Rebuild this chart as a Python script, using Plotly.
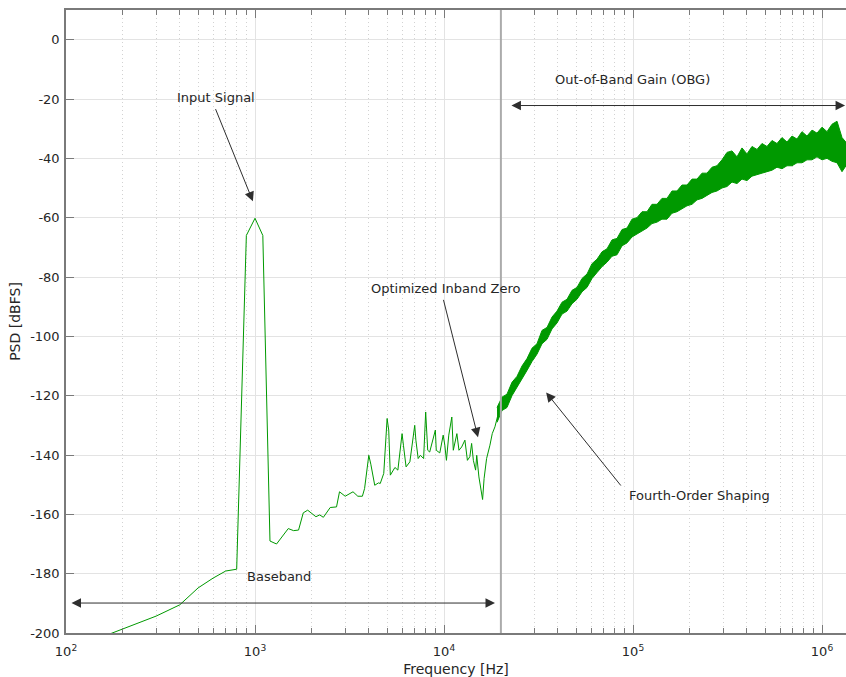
import numpy as np
import plotly.graph_objects as go

# ---------------- data ----------------
# low / mid frequency part of the PSD (single visible line)
F_LINE = [100, 200, 300, 400, 500, 600, 700, 800, 900, 1000, 1100, 1200, 1300,
          1500, 1600, 1700, 1800, 1900, 2100, 2200, 2300, 2500, 2700, 2800,
          3000, 3300, 3500, 3700, 3800, 4000, 4100, 4300, 4500, 4600, 4800,
          5000, 5100, 5200, 5500, 5700, 6000, 6100, 6300, 6600, 7000, 7100,
          7300, 7500, 7800, 8000, 8200, 8400, 8700, 9000, 9100, 9500, 9900,
          10100, 10300, 10600, 11000, 11200, 11700, 12000, 12400, 12900,
          13300, 13700, 14000, 14300, 14700, 14900, 15300, 15700, 16000,
          16300, 16800, 17500, 18000, 18600, 19200]
PSD_LINE = [-206, -198.7, -194.3, -190.5, -184.8, -181.5, -179.1, -178.5,
            -66, -60.2, -66, -169, -170,
            -164.8, -165.5, -165.3, -159.5, -158.6, -160.8, -160.2, -161,
            -157.7, -157.5, -152.4, -153.9, -152.4, -153.9, -153.9, -151.3,
            -140.1, -143.1, -150.2, -149.4, -149.6, -146.2, -127.7, -131.6,
            -146.8, -144.2, -145.1, -132.8, -136.7, -144, -142.3, -130, -135,
            -141.2, -140.1, -141.2, -125.5, -138.4, -139, -135.6, -131.6,
            -138.4, -139.3, -133.3, -136.7, -141.8, -133.3, -127.2, -138.4,
            -132.8, -138.4, -137.3, -135, -141.8, -140.6, -136.1, -141.8,
            -145.1, -140.1, -147.4, -151.3, -155, -147.9, -141.2, -136.7,
            -132.8, -130.5, -127]

# high frequency (shaped noise) part: lower and upper envelope of the dense band
F_BAND = [19080, 20270, 21540, 22890, 24330, 25860, 27490, 29210, 31050, 33000,
          35080, 37280, 39620, 42110, 44760, 47570, 50560, 53740, 57110, 60700,
          64510, 68560, 72860, 77440, 82300, 87480, 92970, 98790, 105000, 111600,
          118600, 126000, 134000, 142300, 151300, 160800, 170900, 181600, 193100,
          205200, 218100, 231800, 246300, 261800, 278200, 295700, 314300, 334000,
          355000, 377300, 401000, 426200, 453000, 481400, 511600, 543800, 577900,
          614300, 652800, 693800, 737400, 783700, 832900, 885200, 940800, 1000000,
          1063000, 1130000, 1201000, 1276000, 1356000]
PSD_BAND_HI = [-124, -120.5, -119.5, -115.5, -113.5, -110, -107.5, -104, -102.5,
               -98, -97, -93.5, -91.5, -88.5, -87.5, -84.5, -83.5, -80.5, -79,
               -75.5, -74, -71.5, -70.5, -67.5, -67, -64, -63.5, -60.5, -60,
               -58, -58, -55.5, -55.5, -53.5, -53.5, -51, -51, -49, -49, -47,
               -47, -45, -45, -43, -42.5, -40.5, -38, -37.5, -39.5, -36.5,
               -38.5, -36, -37, -35, -36, -34, -35, -33, -34.5, -32.5, -33.5,
               -31, -32.5, -30.5, -31.5, -29.5, -31, -28.5, -27.5, -33, -35]
PSD_BAND_LO = [-129, -125, -124, -120, -117.5, -114.5, -111.5, -108.5, -106,
               -102.5, -101, -97.5, -95.5, -92.5, -91.5, -89, -87.5, -85, -83.5,
               -80.5, -78.5, -76.5, -75, -73, -72.5, -69.5, -68.5, -66.5, -65.5,
               -64.5, -63.5, -62, -61.5, -60.5, -60.5, -58.5, -58, -57, -56,
               -55.5, -54, -53.5, -52.5, -51.5, -51, -50, -49.5, -48, -48.5,
               -47, -47.5, -46, -45.5, -45, -44.5, -44, -43, -43.5, -42.5,
               -42.5, -41.5, -41.5, -40.5, -40.5, -39.5, -40.5, -40, -41,
               -41.5, -44.5, -42]

BAND_EDGE_HZ = 2e4

X_TICKS = [1e2, 1e3, 1e4, 1e5, 1e6]
X_TICK_TEXT = ["10<sup>2</sup>", "10<sup>3</sup>", "10<sup>4</sup>",
               "10<sup>5</sup>", "10<sup>6</sup>"]
Y_TICKS = [0, -20, -40, -60, -80, -100, -120, -140, -160, -180, -200]
Y_TICK_TEXT = ["0", "-20", "-40", "-60", "-80", "-100", "-120", "-140",
               "-160", "-180", "-200"]

assert len(F_LINE) == len(PSD_LINE)
assert len(F_BAND) == len(PSD_BAND_LO) == len(PSD_BAND_HI)

# ---------------- figure ----------------
GREEN = "rgb(0,153,0)"
FONT = "DejaVu Sans"
TXT = "#262626"
AXC = "#7a7a7a"

fig = go.Figure()
fig.add_trace(go.Scatter(x=F_LINE, y=PSD_LINE, mode="lines",
                         line=dict(color=GREEN, width=1),
                         showlegend=False, hoverinfo="skip"))
fig.add_trace(go.Scatter(x=F_BAND + F_BAND[::-1],
                         y=PSD_BAND_HI + PSD_BAND_LO[::-1],
                         mode="lines", fill="toself", fillcolor=GREEN,
                         line=dict(color=GREEN, width=1),
                         showlegend=False, hoverinfo="skip"))

fig.add_shape(type="line", xref="x", yref="paper", x0=BAND_EDGE_HZ, x1=BAND_EDGE_HZ,
              y0=0, y1=1, line=dict(color="#ababab", width=2), layer="above")

minor_vals = [m * 10 ** k for k in range(2, 7) for m in range(2, 10)]

fig.update_xaxes(type="log", range=[2, 2 + 780 / 189],
                 tickmode="array", tickvals=X_TICKS, ticktext=X_TICK_TEXT,
                 ticks="inside", ticklen=8, tickcolor=AXC, tickwidth=1,
                 showline=True, linecolor=AXC, linewidth=1.5, mirror="ticks",
                 showgrid=True, gridcolor="#e3e3e3", gridwidth=1,
                 minor=dict(tickmode="array", tickvals=minor_vals, ticks="inside",
                            ticklen=5, tickcolor=AXC, showgrid=True,
                            gridcolor="#d2d2d2", griddash="1px,3px", gridwidth=1),
                 tickfont=dict(family=FONT, size=13, color=TXT),
                 title=dict(text="Frequency [Hz]", standoff=6,
                            font=dict(family=FONT, size=14, color=TXT)),
                 zeroline=False, ticklabelstandoff=6)
fig.update_yaxes(range=[-200, 10], tickmode="array", tickvals=Y_TICKS,
                 ticktext=Y_TICK_TEXT,
                 ticks="inside", ticklen=8, tickcolor=AXC, tickwidth=1,
                 showline=True, linecolor=AXC, linewidth=1.5, mirror=False,
                 showgrid=True, gridcolor="#e3e3e3", gridwidth=1,
                 tickfont=dict(family=FONT, size=13, color=TXT),
                 title=dict(text="PSD [dBFS]", standoff=6,
                            font=dict(family=FONT, size=14, color=TXT)),
                 zeroline=False, ticklabelstandoff=2)

ARW = "#2e2e2e"


def arrow(tail, tip, both=False):
    fig.add_annotation(x=tip[0], y=tip[1], ax=tail[0], ay=tail[1],
                       xref="x", yref="y", axref="x", ayref="y", text="",
                       showarrow=True, arrowhead=2, arrowsize=1.9, arrowwidth=1,
                       startarrowhead=2, startarrowsize=1.9,
                       arrowside="end+start" if both else "end",
                       arrowcolor=ARW)


def label(x, y, text, anchor="center"):
    fig.add_annotation(x=x, y=y, xref="x", yref="y", text=text, showarrow=False,
                       xanchor=anchor, yanchor="middle",
                       font=dict(family=FONT, size=13, color=TXT))


lg = np.log10
# Input signal
label(lg(622), -19.5, "Input Signal")
arrow((lg(614), -22.9), (lg(975), -54.5))
# Optimized inband zero
label(lg(10250), -83.8, "Optimized Inband Zero")
arrow((lg(9890), -87.2), (lg(15130), -134.0))
# Fourth-order shaping
label(lg(92900), -153.5, "Fourth-Order Shaping", anchor="left")
arrow((lg(87500), -150.8), (lg(34700), -118.9))
# Out-of-band gain
label(lg(98850), -13.5, "Out-of-Band Gain (OBG)")
arrow((lg(22330), -22.2), (lg(1324000), -22.2), both=True)
# Baseband
label(lg(1340), -181.1, "Baseband")
arrow((lg(105), -189.9), (lg(18620), -189.9), both=True)

fig.update_layout(width=846, height=677,
                  margin=dict(l=66, r=0, t=10, b=44, autoexpand=False),
                  paper_bgcolor="white", plot_bgcolor="white",
                  font=dict(family=FONT, size=13, color=TXT),
                  hovermode=False, showlegend=False)

fig.write_html("out.html")
